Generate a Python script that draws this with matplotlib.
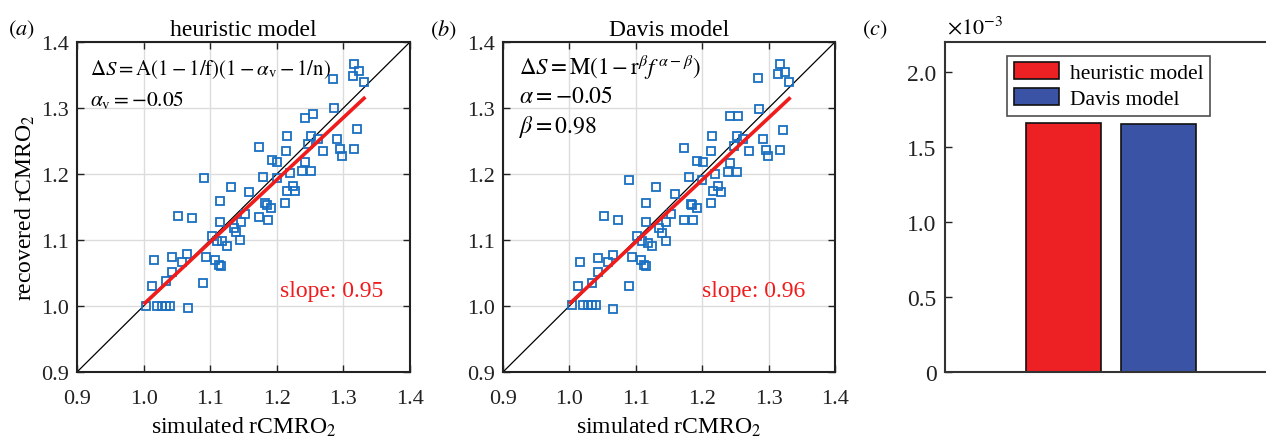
import numpy as np
import matplotlib
matplotlib.use("Agg")
import matplotlib.pyplot as plt
from matplotlib.patches import Patch

plt.rcParams['font.family'] = ['Liberation Serif', 'DejaVu Serif']
plt.rcParams['mathtext.fontset'] = 'stix'

# simulated rCMRO2 (shared by both models)
simulated = [1.3165, 1.324, 1.314, 1.3305, 1.2845, 1.286, 1.2424, 1.2544, 1.321, 1.2153,
             1.252, 1.262, 1.291, 1.173, 1.214, 1.2474, 1.270, 1.2955, 1.2985, 1.3165,
             1.1928, 1.2007, 1.2424, 1.1797, 1.2193, 1.2383, 1.252, 1.1997, 1.090, 1.131,
             1.2243, 1.159, 1.216, 1.228, 1.115, 1.1827, 1.1853, 1.1917, 1.2128, 1.0524,
             1.0734, 1.1526, 1.115, 1.1456, 1.1727, 1.1868, 1.1356, 1.139, 1.102, 1.110,
             1.118, 1.1245, 1.145, 1.0158, 1.0433, 1.0574, 1.0659, 1.094, 1.1075, 1.1125,
             1.1155, 1.0433, 1.0343, 1.0132, 1.0895, 1.0038, 1.0198, 1.0274, 1.0338, 1.040,
             1.066]

recovered_heuristic = [1.367, 1.356, 1.349, 1.339, 1.344, 1.2995, 1.285, 1.291, 1.268, 1.2576,
                       1.2576, 1.253, 1.253, 1.241, 1.235, 1.246, 1.235, 1.238, 1.2277, 1.238,
                       1.2212, 1.2186, 1.2186, 1.1955, 1.202, 1.2045, 1.2045, 1.1935, 1.1935, 1.180,
                       1.182, 1.172, 1.1747, 1.1747, 1.1586, 1.1556, 1.1535, 1.1485, 1.1556, 1.137,
                       1.133, 1.1394, 1.128, 1.128, 1.1344, 1.1303, 1.1177, 1.1126, 1.1065, 1.099,
                       1.098, 1.0905, 1.100, 1.0692, 1.0747, 1.0662, 1.0792, 1.0747, 1.0697, 1.062,
                       1.060, 1.051, 1.0374, 1.031, 1.0348, 1.0, 1.0, 1.0, 1.0, 1.0,
                       0.9975]

recovered_davis = [1.367, 1.3548, 1.3508, 1.339, 1.3457, 1.299, 1.2873, 1.2873, 1.267, 1.2569,
                   1.2569, 1.2533, 1.2533, 1.2391, 1.2345, 1.2431, 1.2345, 1.2365, 1.2274, 1.2365,
                   1.2198, 1.2178, 1.2162, 1.1949, 1.1995, 1.2036, 1.2036, 1.1914, 1.1909, 1.1797,
                   1.1822, 1.170, 1.174, 1.1726, 1.1558, 1.1538, 1.1530, 1.1487, 1.1558, 1.137,
                   1.1305, 1.1396, 1.128, 1.128, 1.1305, 1.1305, 1.1183, 1.1107, 1.1066, 1.099,
                   1.0949, 1.0914, 1.098, 1.067, 1.0726, 1.067, 1.0772, 1.0746, 1.0695, 1.0624,
                   1.0604, 1.0508, 1.035, 1.0305, 1.0305, 1.001, 1.001, 1.001, 1.001, 1.001,
                   0.996]

# fitted regression lines (end points)
fit_x = [1.002, 1.331]
fit_heuristic = [1.0045, 1.3147]
fit_davis = [1.005, 1.3142]

# panel (c) values
models = ['heuristic model', 'Davis model']
error_values = [1.662e-3, 1.651e-3]
bar_colors = ['#ED2024', '#3A53A4']

ticks = [0.9, 1.0, 1.1, 1.2, 1.3, 1.4]
tick_labels = ['0.9', '1.0', '1.1', '1.2', '1.3', '1.4']

W, H = 1266, 439
fig = plt.figure(figsize=(W / 100, H / 100), dpi=100)


def px_axes(left, right, top, bottom):
    return fig.add_axes([left / W, (H - bottom) / H, (right - left) / W, (bottom - top) / H])


def style_frame(ax, color):
    for s in ax.spines.values():
        s.set_linewidth(1.5)
        s.set_color(color)


def scatter_panel(ax, recovered, fit_y, title, slope_text, slope_x, eq_lines, eq_x):
    ax.set_xlim(0.9, 1.4)
    ax.set_ylim(0.9, 1.4)
    ax.grid(True, color='#dcdcdc', linewidth=1.0)
    ax.set_axisbelow(True)
    ax.plot([0.9, 1.4], [0.9, 1.4], color='black', linewidth=0.9, zorder=2)
    ax.plot(simulated, recovered, linestyle='none', marker='s', markersize=5.4,
            markerfacecolor='none', markeredgecolor='#1a6fc2', markeredgewidth=1.3, zorder=3)
    ax.plot(fit_x, fit_y, color='#f01c1c', linewidth=2.6, zorder=4)
    ax.set_xticks(ticks)
    ax.set_xticklabels(tick_labels)
    ax.set_yticks(ticks)
    ax.set_yticklabels(tick_labels)
    ax.tick_params(direction='in', length=5, width=1.0, labelsize=16, top=True, right=True,
                   colors='#222222')
    ax.tick_params(axis='x', pad=12)
    ax.tick_params(axis='y', pad=6)
    style_frame(ax, '#222222')
    ax.set_title(title, fontsize=17, pad=5)
    ax.set_xlabel('simulated rCMRO$_2$', fontsize=17, labelpad=5)
    ax.text(slope_x, 1.0242, slope_text, color='#f01c1c', fontsize=17, va='center')
    for text, y, size in eq_lines:
        ax.text(eq_x, y, text, fontsize=size, va='center')


ax_a = px_axes(77, 410, 43, 373)
scatter_panel(ax_a, recovered_heuristic, fit_heuristic, 'heuristic model', 'slope: 0.95', 1.205,
              [(r'$\Delta S = \mathrm{A}(1 - 1/\mathrm{f})(1 - \alpha_{\mathrm{v}} - 1/\mathrm{n})$', 1.359, 15),
               (r'$\alpha_{\mathrm{v}} = -0.05$', 1.3136, 15.5)], 0.9196)
ax_a.set_ylabel('recovered rCMRO$_2$', fontsize=17, labelpad=3)

ax_b = px_axes(503, 835, 43, 373)
scatter_panel(ax_b, recovered_davis, fit_davis, 'Davis model', 'slope: 0.96', 1.200,
              [(r'$\Delta S = \mathrm{M}(1 - \mathrm{r}^{\beta} f^{\,\alpha - \beta})$', 1.362, 16.5),
               (r'$\alpha = -0.05$', 1.318, 17),
               (r'$\beta = 0.98$', 1.2727, 17)], 0.924)

ax_c = px_axes(945, 1277, 43, 373)
ax_c.bar([1, 2], error_values, width=0.79, color=bar_colors, edgecolor='#111111', linewidth=1.2)
ax_c.set_xlim(-0.25, 3.25)
ax_c.set_ylim(0, 2.2e-3)
ax_c.set_yticks([0, 0.5e-3, 1.0e-3, 1.5e-3, 2.0e-3])
ax_c.set_yticklabels(['0', '0.5', '1.0', '1.5', '2.0'])
ax_c.set_xticks([])
ax_c.tick_params(axis='y', direction='in', length=5, width=1.0, labelsize=17, right=True,
                 colors='#222222', pad=6)
style_frame(ax_c, '#333333')
ax_c.text(0.005, 1.025, r'$\times 10^{-3}$', transform=ax_c.transAxes, fontsize=16, ha='left', va='baseline')
handles = [Patch(facecolor=c, edgecolor='#111111', linewidth=1.2) for c in bar_colors]
leg = ax_c.legend(handles, models, loc='upper left', bbox_to_anchor=(0.187, 0.958),
                  fontsize=15.5, frameon=True, fancybox=False, edgecolor='#222222',
                  handlelength=2.1, handleheight=0.85, handletextpad=0.5, borderpad=0.3,
                  labelspacing=0.22, borderaxespad=0)
leg.get_frame().set_linewidth(1.2)

fig.text(8 / W, (H - 30) / H, r'$(\mathit{a})$', fontsize=16, va='center')
fig.text(430 / W, (H - 30) / H, r'$(\mathit{b})$', fontsize=16, va='center')
fig.text(862 / W, (H - 30) / H, r'$(\mathit{c})$', fontsize=16, va='center')

fig.savefig('out.png', dpi=100)
